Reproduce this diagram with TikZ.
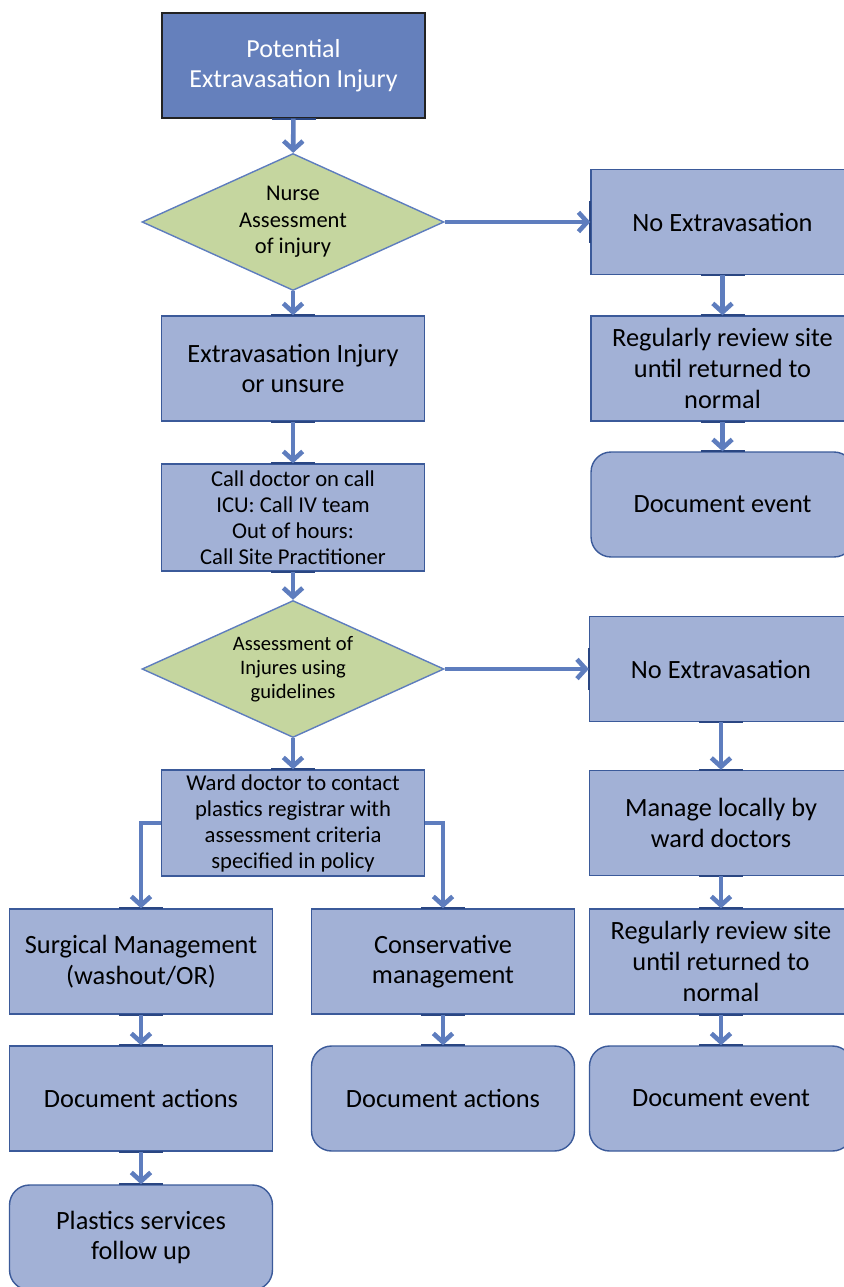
\documentclass[tikz,border=0pt]{standalone}
\usepackage{fontspec}
\setmainfont{Carlito}
\usetikzlibrary{arrows.meta,shapes.geometric}
\definecolor{boxfill}{HTML}{A2B1D6}
\definecolor{boxline}{HTML}{3B5A9A}
\definecolor{topfill}{HTML}{6580BC}
\definecolor{topline}{HTML}{222222}
\definecolor{diafill}{HTML}{C5D69F}
\definecolor{flowcol}{HTML}{5E7DBE}
\definecolor{gluecol}{HTML}{2A4682}
\tikzset{
	stepbox/.style={draw=boxline, line width=0.8pt, fill=boxfill, minimum width=5.26cm, minimum height=2.1cm, align=center, inner sep=2pt, font=\fontsize{15}{17.4}\selectfont},
	smallbox/.style={stepbox, font=\fontsize{12.9}{14.8}\selectfont},
	endbox/.style={stepbox, rounded corners=0.4cm},
	startbox/.style={stepbox, fill=topfill, draw=topline, text=white, font=\fontsize{14.8}{17.2}\selectfont},
	decision/.style={diamond, draw=flowcol, line width=0.8pt, fill=diafill, minimum width=6.04cm, minimum height=2.74cm, aspect=2.2, inner sep=0pt, align=center, font=\fontsize{12.8}{15}\selectfont},
	flow/.style={draw=flowcol, line width=2.6pt, -{Straight Barb[length=5pt,width=11pt]}},
	glue/.style={draw=gluecol, line width=1.3pt}
}
\begin{document}
\begin{tikzpicture}[x=0.02cm, y=-0.02cm]
			%%%%% START %%%%%
			
			\useasboundingbox (0, 0) rectangle (843, 1287);
			
			% left column
			\node[startbox] (start) at (293.5, 65.5) {Potential\\Extravasation Injury};
			\node[decision] (nurse) at (293, 222) {Nurse\\Assessment\\of injury};
			\node[stepbox] (injury) at (293, 368.5) {Extravasation Injury\\or unsure};
			\node[smallbox, minimum height=2.14cm] (calldoc) at (293, 517.5) {Call doctor on call\\ICU: Call IV team\\Out of hours:\\Call Site Practitioner};
			\node[decision, font=\fontsize{11.7}{13.6}\selectfont] (assess) at (293, 669) {Assessment of\\Injures using\\guidelines};
			\node[smallbox, minimum height=2.12cm] (ward) at (293, 823) {Ward doctor to contact\\plastics registrar with\\assessment criteria\\specified in policy};
			
			% right column
			\node[stepbox] (noext1) at (722.5, 222) {No Extravasation};
			\node[stepbox] (review1) at (722.5, 368.5) {Regularly review site\\until returned to\\normal};
			\node[endbox] (docevent1) at (722.5, 504.5) {Document event};
			\node[stepbox] (noext2) at (721, 669) {No Extravasation};
			\node[stepbox] (local) at (721, 823) {Manage locally by\\ward doctors};
			\node[stepbox] (review2) at (721, 961.5) {Regularly review site\\until returned to\\normal};
			\node[endbox] (docevent2) at (721, 1098.5) {Document event};
			
			% bottom branches
			\node[stepbox] (surgical) at (141, 961.5) {Surgical Management\\(washout/OR)};
			\node[stepbox] (docact1) at (141, 1098.5) {Document actions};
			\node[endbox] (plastics) at (141, 1237.5) {Plastics services\\follow up};
			\node[stepbox] (conserv) at (443, 961.5) {Conservative\\management};
			\node[endbox] (docact2) at (443, 1098.5) {Document actions};
			
			% connection marks
			\foreach \p in {start.south, injury.north, injury.south, calldoc.north, calldoc.south, ward.north,
				noext1.south, review1.north, review1.south, docevent1.north,
				noext2.south, local.north, local.south, review2.north, review2.south, docevent2.north,
				surgical.north, surgical.south, docact1.north, docact1.south, plastics.north,
				conserv.north, conserv.south, docact2.north}
				\draw[glue] ([xshift=-0.44cm]\p) -- ([xshift=0.44cm]\p);
			\foreach \p in {noext1.west, noext2.west}
				\draw[glue] ([yshift=-0.42cm]\p) -- ([yshift=0.42cm]\p);
			
			% connectors
			\draw[flow] (start) -- (nurse);
			\draw[flow] (nurse) -- (injury);
			\draw[flow] (injury) -- (calldoc);
			\draw[flow] (calldoc) -- (assess);
			\draw[flow] (assess) -- (ward);
			\draw[flow] (nurse.east) -- (noext1.west);
			\draw[flow] (assess.east) -- (noext2.west);
			
			\draw[flow] (noext1) -- (review1);
			\draw[flow] (review1) -- (docevent1);
			\draw[flow] (noext2) -- (local);
			\draw[flow] (local) -- (review2);
			\draw[flow] (review2) -- (docevent2);
			
			\draw[flow] (ward.west) -| (surgical.north);
			\draw[flow] (ward.east) -| (conserv.north);
			\draw[flow] (surgical) -- (docact1);
			\draw[flow] (docact1) -- (plastics);
			\draw[flow] (conserv) -- (docact2);
			
			%%%%% END %%%%%
\end{tikzpicture}
\end{document}
